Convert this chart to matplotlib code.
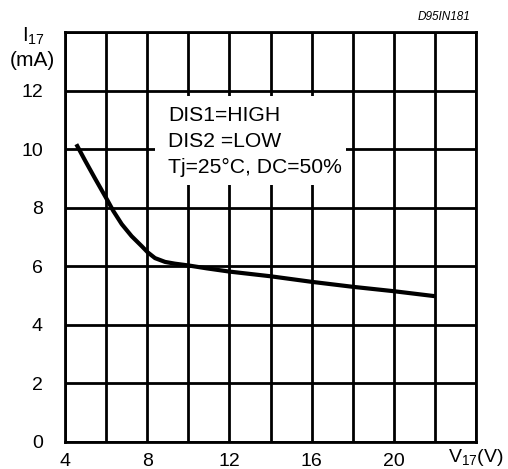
import numpy as np
import matplotlib.pyplot as plt
from matplotlib.patches import Rectangle

plt.rcParams['font.family'] = ['Liberation Sans', 'DejaVu Sans']
plt.rcParams['mathtext.fontset'] = 'custom'
plt.rcParams['mathtext.rm'] = 'Liberation Sans'
plt.rcParams['mathtext.it'] = 'Liberation Sans:italic'

# curve: V17 (V) vs I17 (mA)
v17 = [4.55, 4.97, 5.46, 6.06, 6.35, 6.76, 7.24, 7.73, 8.02, 8.38, 8.87, 9.35,
       10.0, 10.9, 12.0, 14.0, 16.0, 18.0, 20.0, 22.0]
i17 = [10.17, 9.62, 9.0, 8.26, 7.89, 7.44, 7.03, 6.69, 6.48, 6.28, 6.15, 6.09,
       6.03, 5.93, 5.82, 5.66, 5.47, 5.3, 5.15, 4.98]

x_ticks = [4, 6, 8, 10, 12, 14, 16, 18, 20, 22, 24]
x_labels = ['4', '', '8', '', '12', '', '16', '', '20', '', '']
y_ticks = [0, 2, 4, 6, 8, 10, 12, 14]
y_labels = ['0', '2', '4', '6', '8', '10', '12', '']

notes = ['DIS1=HIGH', 'DIS2 =LOW', 'Tj=25\u00b0C, DC=50%']

fig = plt.figure(figsize=(5.08, 4.69), dpi=100)
ax = fig.add_axes([0.128, 0.0576, 0.809, 0.874])

ax.plot(v17, i17, color='black', lw=3.0, solid_capstyle='butt',
        solid_joinstyle='round', zorder=3)

ax.set_xlim(4, 24)
ax.set_ylim(0, 14)
ax.set_xticks(x_ticks)
ax.set_xticklabels(x_labels)
ax.set_yticks(y_ticks)
ax.set_yticklabels(y_labels)
ax.tick_params(length=0, labelsize=14)
ax.tick_params(axis='x', pad=8)
ax.tick_params(axis='y', pad=16)

ax.set_axisbelow(True)
ax.grid(True, color='black', lw=2.0)
for s in ax.spines.values():
    s.set_linewidth(2.0)

# white box behind the condition text
ax.add_patch(Rectangle((8.38, 8.77), 17.67 - 8.38, 11.8 - 8.77,
                       facecolor='white', edgecolor='none', zorder=1))
for k, t in enumerate(notes):
    ax.text(9.0, 11.16 - 0.885 * k, t, fontsize=15.2, va='center', ha='left', zorder=4)

fig.text(33 / 508, 1 - 36 / 469, 'I$_{17}$', fontsize=14.5, ha='center', va='center')
fig.text(32 / 508, 1 - 60 / 469, '(mA)', fontsize=15, ha='center', va='center')
fig.text(504 / 508, 1 - 457 / 469, 'V$_{17}$(V)', fontsize=14, ha='right', va='center')
fig.text(470 / 508, 1 - 17 / 469, 'D95IN181', fontsize=8.5, style='italic',
         ha='right', va='center')

plt.savefig('out.png', dpi=100)
